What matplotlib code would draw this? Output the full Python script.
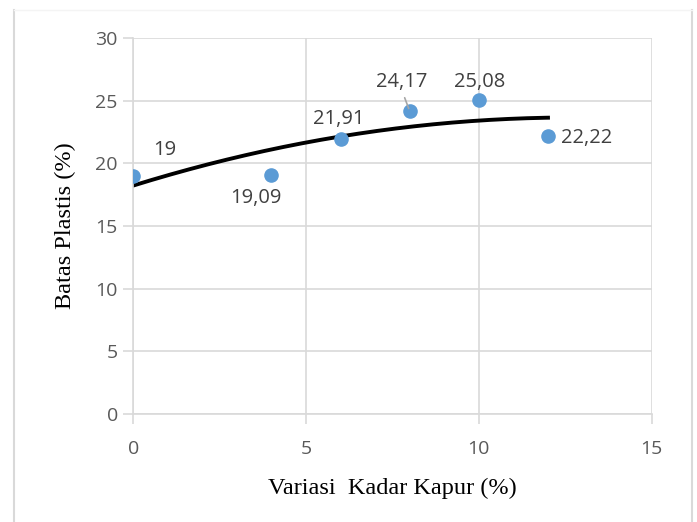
import numpy as np
import matplotlib.pyplot as plt
from matplotlib.lines import Line2D

# Data kadar kapur vs batas plastis
kadar_kapur = [0, 4, 6, 8, 10, 12]
batas_plastis = [19, 19.09, 21.91, 24.17, 25.08, 22.22]
label_teks = ['19', '19,09', '21,91', '24,17', '25,08', '22,22']
x_ticks = [0, 5, 10, 15]
y_ticks = [0, 5, 10, 15, 20, 25, 30]

fig = plt.figure(figsize=(6.97, 5.22), dpi=100)
ax = fig.add_axes([0.191, 0.207, 0.744, 0.72])

# bingkai chart area (kiri, kanan, atas tipis)
fig.add_artist(Line2D([0.020, 0.020], [0.0, 0.981], transform=fig.transFigure,
                      color='#D9D9D9', linewidth=1.5))
fig.add_artist(Line2D([0.9925, 0.9925], [0.0, 0.981], transform=fig.transFigure,
                      color='#D9D9D9', linewidth=1.5))
fig.add_artist(Line2D([0.020, 0.9925], [0.981, 0.981], transform=fig.transFigure,
                      color='#F4F4F4', linewidth=1.0))

grey = '#D9D9D9'
ax.set_xlim(0, 15)
ax.set_ylim(0, 30)
ax.set_xticks(x_ticks)
ax.set_yticks(y_ticks)
ax.grid(True, color=grey, linewidth=1.2)
ax.set_axisbelow(True)
for s in ['top', 'right']:
    ax.spines[s].set_visible(False)
for s in ['left', 'bottom']:
    ax.spines[s].set_color(grey)
    ax.spines[s].set_linewidth(1.2)
ax.tick_params(colors=grey, labelcolor='#595959', labelsize=14, length=7, width=1.2)
for lab in ax.get_xticklabels() + ax.get_yticklabels():
    lab.set_family('Open Sans')
ax.tick_params(axis='x', pad=12)
ax.tick_params(axis='y', pad=4)

# trendline polinomial orde 2
koef = np.polyfit(kadar_kapur, batas_plastis, 2)
xs = np.linspace(0, 12, 200)
ax.plot(xs, np.polyval(koef, xs), color='black', linewidth=2.8, zorder=2)

ax.scatter(kadar_kapur, batas_plastis, s=90, color='#5B9BD5', zorder=3)

# posisi label data (pixel offset)
offsets = [(32, 26), (-16, -23), (-2, 20), (-8, 29), (1, 18), (13, -2)]
align = ['center', 'center', 'center', 'center', 'center', 'left']
for xv, yv, t, off, ha in zip(kadar_kapur, batas_plastis, label_teks, offsets, align):
    ax.annotate(t, (xv, yv), xytext=off, textcoords='offset pixels',
                ha=ha, va='center', fontsize=14.5, color='#404040',
                family='Open Sans')
# garis penunjuk label 24,17
ax.annotate('', (8, 24.17), xytext=(-6, 16), textcoords='offset pixels',
            arrowprops=dict(arrowstyle='-', color='#A6A6A6', lw=1.2))

ax.set_xlabel('Variasi  Kadar Kapur (%)', family='Liberation Serif', fontsize=17.5, labelpad=14)
ax.set_ylabel('Batas Plastis (%)', family='Liberation Serif', fontsize=17.5, labelpad=14)

fig.savefig('out.png', dpi=100)
